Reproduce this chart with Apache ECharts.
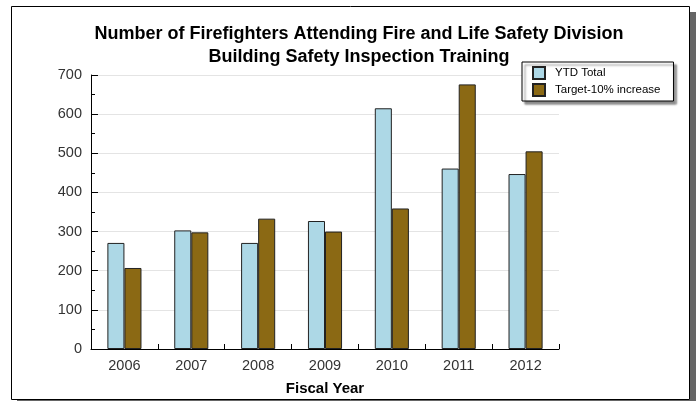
<!DOCTYPE html>
<html><head><meta charset="utf-8">
<script src="https://cdn.jsdelivr.net/npm/echarts@6/dist/echarts.min.js"></script>
<style>html,body{margin:0;padding:0;background:#fff}#c{width:696px;height:401px}</style>
</head><body><div id="c"></div>
<script>
const categories = ['2006','2007','2008','2009','2010','2011','2012'];
const ytdTotal = [271, 303, 271, 327, 615, 461, 447];
const target = [207, 298, 333, 300, 359, 676, 505];
const seriesNames = ['YTD Total', 'Target-10% increase'];
const yTicks = {min: 0, max: 700, interval: 100};

const font = 'Liberation Sans, Arial, sans-serif';
const chart = echarts.init(document.getElementById('c'));
chart.setOption({
  animation: false,
  backgroundColor: '#fff',
  textStyle: {fontFamily: font},
  graphic: [
    {type: 'rect', shape: {x: 690, y: 12, width: 6, height: 389}, style: {fill: '#666'}, silent: true, z: -10},
    {type: 'rect', shape: {x: 17, y: 400, width: 679, height: 1}, style: {fill: '#666'}, silent: true, z: -10},
    {type: 'rect', shape: {x: 11.5, y: 6.5, width: 678, height: 393}, style: {fill: '#fff', stroke: '#000', lineWidth: 1}, silent: true, z: -9}
  ],
  title: {
    text: 'Number of Firefighters Attending Fire and Life Safety Division\nBuilding Safety Inspection Training',
    left: 354, top: 17, textAlign: 'center',
    textStyle: {fontFamily: font, fontSize: 18, fontWeight: 'bold', color: '#000', lineHeight: 23.5}
  },
  legend: {
    orient: 'vertical', left: 522, top: 62,
    padding: [4, 13, 4, 10],
    backgroundColor: '#fff', borderColor: '#000', borderWidth: 1,
    shadowColor: 'rgba(0,0,0,0.45)', shadowOffsetX: 3, shadowOffsetY: 3, shadowBlur: 2,
    itemWidth: 12, itemHeight: 12, itemGap: 3,
    icon: 'rect',
    textStyle: {fontFamily: font, fontSize: 11.5, color: '#000', padding: [0, 0, 0, 5]},
    data: seriesNames
  },
  grid: {left: 91, right: 137, top: 75, bottom: 52, containLabel: false},
  xAxis: {
    type: 'category', data: categories, boundaryGap: true,
    axisLine: {lineStyle: {color: '#000', width: 1}},
    axisTick: {show: true, inside: true, length: 5, interval: 0, lineStyle: {color: '#000'}},
    axisLabel: {color: '#333', fontSize: 14.5, margin: 9, fontFamily: font},
    name: 'Fiscal Year', nameLocation: 'middle', nameGap: 32,
    nameTextStyle: {fontFamily: font, fontSize: 15, fontWeight: 'bold', color: '#000'}
  },
  yAxis: {
    type: 'value', min: yTicks.min, max: yTicks.max, interval: yTicks.interval,
    axisLine: {show: true, lineStyle: {color: '#000', width: 1}},
    axisTick: {show: true, inside: true, length: 7, lineStyle: {color: '#000'}},
    minorTick: {show: true, splitNumber: 2, length: 4, lineStyle: {color: '#000'}},
    axisLabel: {color: '#333', fontSize: 14.5, margin: 9, fontFamily: font},
    splitLine: {show: true, lineStyle: {color: '#e4e4e4', width: 1}}
  },
  series: [
    {name: seriesNames[0], type: 'bar', data: ytdTotal, barGap: '0%', barCategoryGap: '49%',
     itemStyle: {color: '#add8e6', borderColor: '#222', borderWidth: 1}},
    {name: seriesNames[1], type: 'bar', data: target, barGap: '0%', barCategoryGap: '49%',
     itemStyle: {color: '#8b6914', borderColor: '#222', borderWidth: 1}}
  ]
});
</script></body></html>
